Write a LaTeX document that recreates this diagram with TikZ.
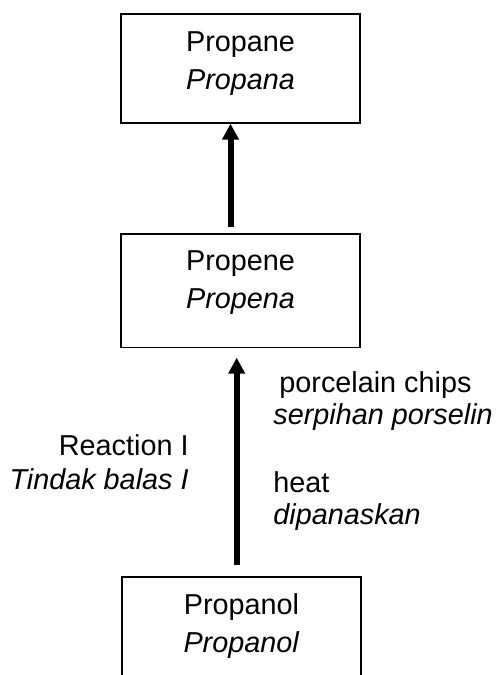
\documentclass[tikz,border=0pt]{standalone}
\usepackage{fontspec}
\setmainfont{Liberation Sans}
\usetikzlibrary{arrows.meta, positioning}

\tikzset{
  chembox/.style={draw, line width=0.6pt, minimum width=119.5pt, inner sep=0pt},
  chemname/.style={align=center, inner sep=0pt, font=\fontsize{14.4}{19}\selectfont},
  condition/.style={align=left, anchor=west, inner sep=0pt, font=\fontsize{14.4}{16}\selectfont},
  reactarrow/.style={line width=3pt, -{Triangle[length=8pt,width=8pt]}},
}

\begin{document}
\begin{tikzpicture}[x=0.5pt, y=-0.5pt]
		\useasboundingbox (0,0) rectangle (499,675);
		\clip (0,0) rectangle (499,675);
		
		% boxes
		\node[chembox, minimum height=54.5pt] (propane) at (240.5,68.5) {};
		\node[chembox, minimum height=56.75pt] (propene) at (240.5,290.75) {};
		\node[chembox, minimum height=64pt] (propanol) at (241.5,641) {};
		
		\node[chemname] (propanetext) at (240.5,64) {Propane\\\textit{Propana}};
		\node[chemname] (propenetext) at (240.5,282.5) {Propene\\\textit{Propena}};
		\node[chemname] (propanoltext) at (241.5,626) {Propanol\\\textit{Propanol}};
		
		% arrows
		\draw[reactarrow, shorten <=3pt] ([xshift=-5pt]propene.north) -- ([xshift=-5pt]propane.south);
		\draw[reactarrow, shorten <=5.5pt, shorten >=4.75pt] ([xshift=-2.4pt]propanol.north) -- ([xshift=-2.4pt]propanol.north |- propene.south);
		
		% conditions
		\node[condition] (catalyst) at (273,401) {\hspace*{3pt}porcelain chips\\\textit{serpihan porselin}};
		\node[condition] (heating) at (273,501.5) {heat\\\textit{dipanaskan}};
		\node[condition, align=right, anchor=east, font=\fontsize{14.4}{17}\selectfont] (reaction) at (189,462) {Reaction I\\\textit{Tindak balas I}};
\end{tikzpicture}
\end{document}
